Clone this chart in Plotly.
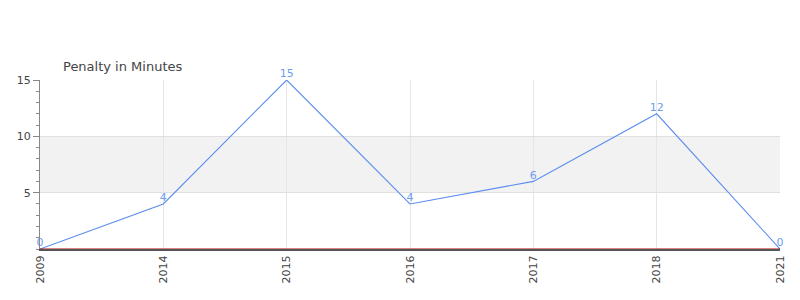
import plotly.graph_objects as go

years = ["2009", "2014", "2015", "2016", "2017", "2018", "2021"]
penalty_minutes = [0, 4, 15, 4, 6, 12, 0]
y_tick_values = [5, 10, 15]
title_text = "Penalty in Minutes"

line_color = "#5b8def"
font_family = "DejaVu Sans, Verdana, sans-serif"

fig = go.Figure()
fig.add_trace(go.Scatter(
    x=years, y=penalty_minutes, mode="lines+text",
    text=[str(v) for v in penalty_minutes], textposition="top center",
    textfont=dict(color="#6f9cf0", size=11, family=font_family),
    line=dict(color=line_color, width=1.1),
    cliponaxis=False, hoverinfo="x+y", showlegend=False,
))

fig.add_shape(type="rect", xref="paper", yref="y", x0=0, x1=1, y0=5, y1=10,
              fillcolor="#f2f2f2", line=dict(width=0), layer="below")
fig.add_shape(type="line", xref="paper", yref="y", x0=0, x1=1, y0=0, y1=0,
              line=dict(color="#c00000", width=1), layer="above")

fig.add_annotation(text=title_text, xref="paper", yref="paper", x=0.028, y=1.0,
                   xanchor="left", yanchor="bottom", yshift=4, showarrow=False,
                   font=dict(size=13, color="#444", family=font_family))

fig.update_layout(
    width=800, height=300,
    margin=dict(l=40, r=20, t=80, b=51),
    plot_bgcolor="white", paper_bgcolor="white",
    font=dict(family=font_family, color="#444", size=11),
    xaxis=dict(type="category", range=[0, 6], showgrid=True, gridcolor="#e6e6e6",
               tickangle=-90, ticks="", showline=True, linecolor="#555",
               linewidth=2, zeroline=False, tickfont=dict(size=11)),
    yaxis=dict(range=[0, 15], tickvals=y_tick_values, showgrid=True,
               gridcolor="#e0e0e0", ticks="outside", ticklen=6, tickcolor="#888",
               showline=True, linecolor="#888", zeroline=False,
               minor=dict(dtick=1, ticks="outside", ticklen=3, tickcolor="#888",
                          showgrid=False),
               tickfont=dict(size=11)),
)

fig.write_html("out.html")
